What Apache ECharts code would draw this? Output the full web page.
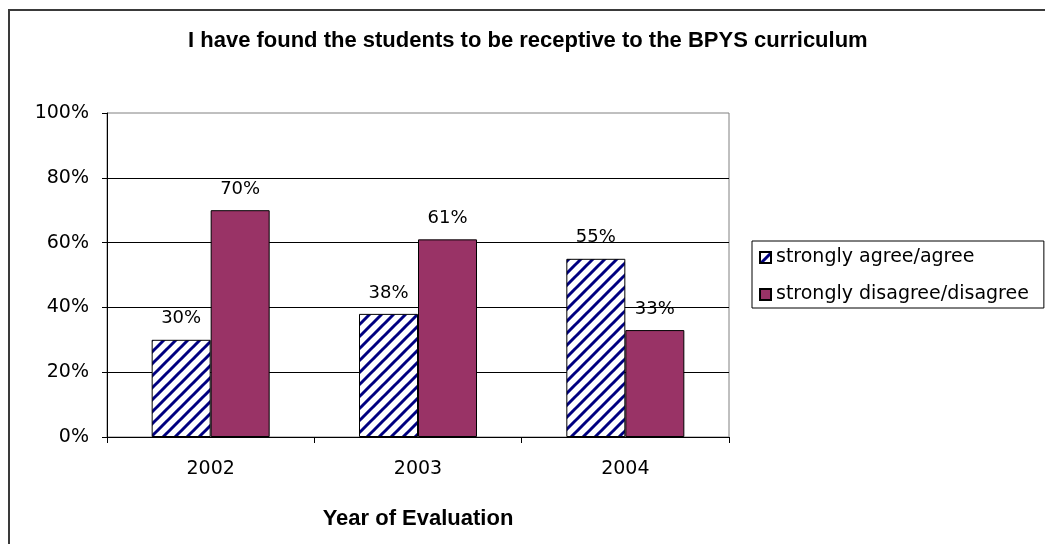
<!DOCTYPE html>
<html><head><meta charset="utf-8">
<script src="https://cdn.jsdelivr.net/npm/echarts@6/dist/echarts.min.js"></script>
<style>html,body{margin:0;padding:0;background:#fff}#c{width:1045px;height:544px}</style>
</head><body><div id="c"></div>
<script>
const categories = ['2002', '2003', '2004'];
const agreeValues = [30, 38, 55];
const disagreeValues = [70, 61, 33];
const seriesNames = ['strongly agree/agree', 'strongly disagree/disagree'];
const yTicks = [0, 20, 40, 60, 80, 100];
const titleText = 'I have found the students to be receptive to the BPYS curriculum';
const xAxisTitle = 'Year of Evaluation';

const FONT = "'DejaVu Sans', Verdana, sans-serif";
const BOLD_FONT = "'Liberation Sans', Arial, sans-serif";

function hatch() {
  const s = 12;
  const c = document.createElement('canvas');
  c.width = s; c.height = s;
  const g = c.getContext('2d');
  g.fillStyle = '#ffffff'; g.fillRect(0, 0, s, s);
  g.strokeStyle = '#000080'; g.lineWidth = 3;
  g.beginPath();
  for (const o of [-s, 0, s]) { g.moveTo(o - 1, s + 1); g.lineTo(o + s + 1, -1); }
  g.stroke();
  return c;
}

const chart = echarts.init(document.getElementById('c'), null, { renderer: 'canvas' });
chart.setOption({
  backgroundColor: '#ffffff',
  animation: false,
  textStyle: { fontFamily: FONT },
  graphic: [{
    type: 'rect', shape: { x: 9, y: 10, width: 1200, height: 700 },
    style: { fill: 'none', stroke: '#3a3a3a', lineWidth: 2 }, silent: true
  }],
  title: {
    text: titleText, left: 188, top: 30, padding: 0,
    textStyle: { fontFamily: BOLD_FONT, fontWeight: 'bold', fontSize: 22, color: '#000' }
  },
  legend: {
    orient: 'vertical', left: 752, top: 241,
    padding: [6, 15, 3, 7], itemGap: 16, itemWidth: 11, itemHeight: 11, itemTextGap: 7,
    borderColor: '#000', borderWidth: 1, icon: 'rect',
    textStyle: { fontFamily: FONT, fontSize: 19, color: '#000', lineHeight: 21 },
    data: seriesNames
  },
  grid: { left: 107, right: 316, top: 113, bottom: 107, show: true, borderColor: '#808080', borderWidth: 1, containLabel: false },
  xAxis: {
    type: 'category', data: categories,
    axisLine: { lineStyle: { color: '#000', width: 1 } },
    axisTick: { show: true, alignWithLabel: false, length: 6, lineStyle: { color: '#000' } },
    axisLabel: { margin: 23, fontSize: 19, color: '#000', fontFamily: FONT },
    name: xAxisTitle, nameLocation: 'middle', nameGap: 71,
    nameTextStyle: { fontFamily: BOLD_FONT, fontWeight: 'bold', fontSize: 22, color: '#000' }
  },
  yAxis: {
    type: 'value', min: yTicks[0], max: yTicks[yTicks.length - 1], interval: yTicks[1] - yTicks[0],
    axisLine: { show: true, lineStyle: { color: '#000', width: 1 } },
    axisTick: { show: true, length: 5, lineStyle: { color: '#000' } },
    axisLabel: { margin: 18, fontSize: 19, color: '#000', fontFamily: FONT, formatter: '{value}%' },
    splitLine: { show: true, showMaxLine: false, lineStyle: { color: '#000', width: 1 } }
  },
  series: [
    {
      name: seriesNames[0], type: 'bar', data: agreeValues, barWidth: 59, barGap: '0%',
      itemStyle: { color: { image: hatch(), repeat: 'repeat' }, borderColor: '#000', borderWidth: 1 },
      label: { show: true, position: 'top', distance: 12, formatter: '{c}%', fontSize: 18, color: '#000', fontFamily: FONT }
    },
    {
      name: seriesNames[1], type: 'bar', data: disagreeValues, barWidth: 59,
      itemStyle: { color: '#993366', borderColor: '#000', borderWidth: 1 },
      label: { show: true, position: 'top', distance: 12, formatter: '{c}%', fontSize: 18, color: '#000', fontFamily: FONT }
    }
  ]
});
</script></body></html>
